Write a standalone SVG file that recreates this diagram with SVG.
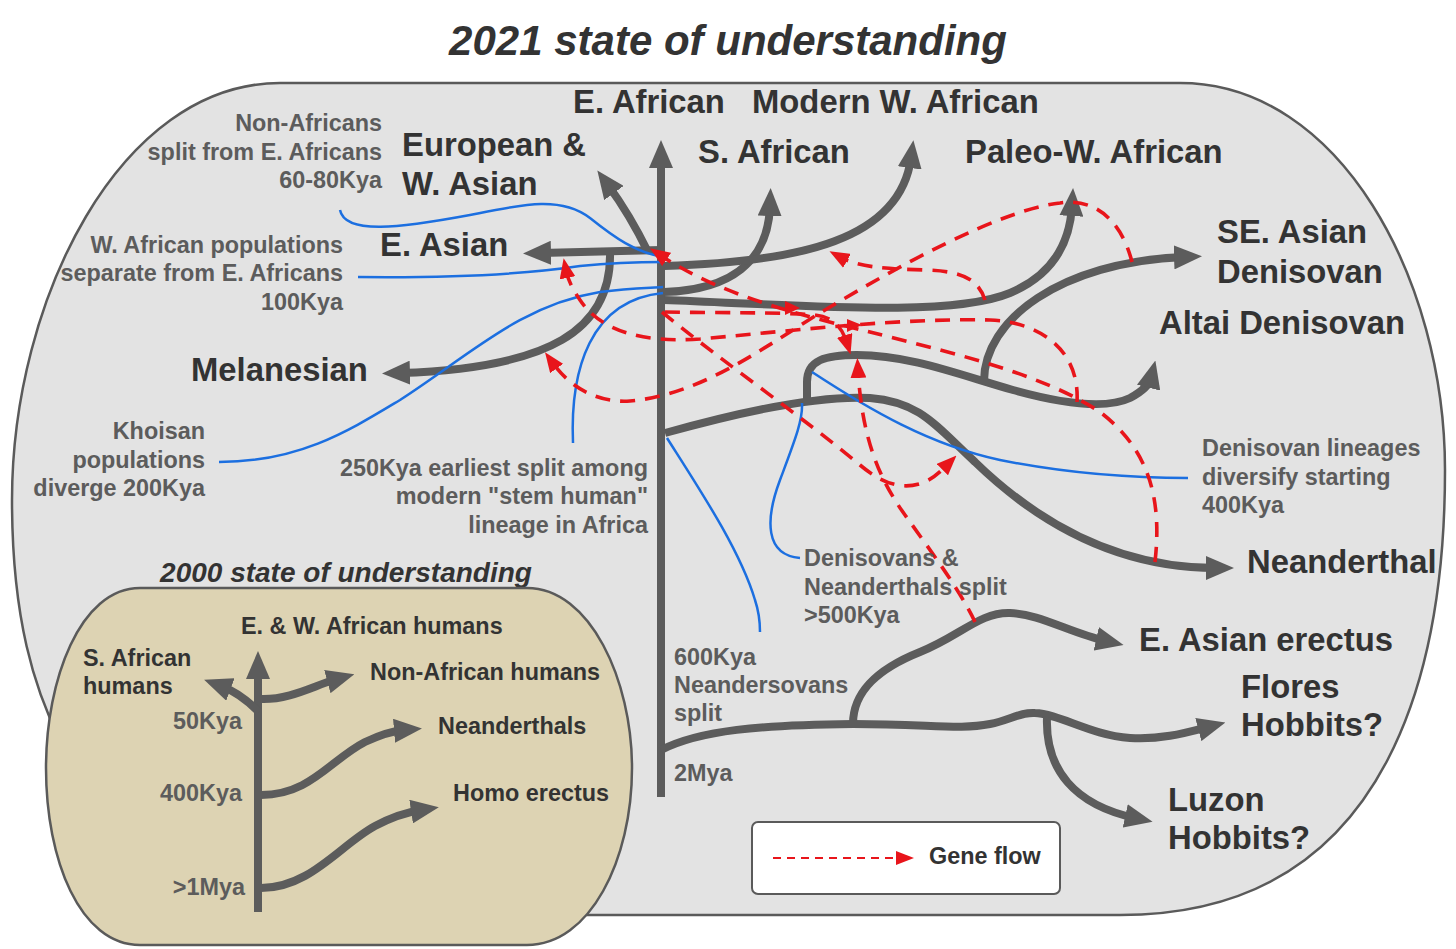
<svg xmlns="http://www.w3.org/2000/svg" width="1456" height="949" viewBox="0 0 1456 949">
<style>
.big{font-family:"Liberation Sans",Arial,sans-serif;font-weight:bold;font-size:32.8px;fill:#333}
.note{font-family:"Liberation Sans",Arial,sans-serif;font-weight:bold;font-size:23.4px;fill:#5c5c5c}
.ins{font-family:"Liberation Sans",Arial,sans-serif;font-weight:bold;font-size:23.4px;fill:#333}
.ttl{font-family:"Liberation Sans",Arial,sans-serif;font-weight:bold;font-style:italic;fill:#333}
.r{text-anchor:end}
.g{fill:none;stroke:#5c5c5c;stroke-width:8;stroke-linecap:butt;marker-end:url(#ga)}
.b{fill:none;stroke:#1c6fe0;stroke-width:2.5}
.rd{fill:none;stroke:#e8151b;stroke-width:3.6;stroke-dasharray:15 10;marker-end:url(#ra)}
</style>
<defs>
<marker id="ga" viewBox="0 -12 28 24" markerUnits="userSpaceOnUse" markerWidth="28" markerHeight="24" refX="10" refY="0" orient="auto"><path d="M0,-12 L28,0 L0,12 Z" fill="#5c5c5c"/></marker>
<marker id="ra" viewBox="0 -8 20 16" markerUnits="userSpaceOnUse" markerWidth="20" markerHeight="16" refX="8" refY="0" orient="auto"><path d="M0,-8 L20,0 L0,8 Z" fill="#e8151b"/></marker>
<marker id="la" viewBox="0 -7 18 14" markerUnits="userSpaceOnUse" markerWidth="18" markerHeight="14" refX="1" refY="0" orient="auto"><path d="M0,-7 L18,0 L0,7 Z" fill="#e8151b"/></marker>
</defs>
<rect width="1456" height="949" fill="#ffffff"/>
<g id="title"><text class="ttl" x="728" y="55" font-size="42" text-anchor="middle">2021 state of understanding</text></g>
<g id="panel-2021">
<path d="M280,83 L1180,83 C1340,83 1445,280 1445,470 C1445,650 1400,915 1120,915 L200,915 L60,740 C35,690 12,620 12,500 C12,300 120,83 280,83 Z" fill="#e3e3e3" stroke="#5a5a5a" stroke-width="2.5"/>
</g>
<g id="connectors">
<path class="g" d="M661,797 L661,158"/>
<path class="g" d="M661,250 L541,253"/>
<path class="g" d="M648,252 Q630,215 608,185"/>
<path class="g" d="M610,252 C612,330 550,368 400,373"/>
<path class="g" d="M664,292 C730,290 768,262 770,206"/>
<path class="g" d="M664,266 C800,262 900,240 911,158"/>
<path class="g" d="M664,300 C800,305 950,318 1010,293 C1055,274 1070,240 1072,206"/>
<path class="g" d="M665,433 C740,412 820,395 870,398 C920,402 935,425 975,462 C1040,525 1120,568 1216,568"/>
<path class="g" d="M807,401 L807,382 C807,360 825,355 857,355 C910,355 960,375 1013,390 C1060,403 1105,410 1130,398 C1145,390 1150,382 1151,378"/>
<path class="g" d="M984,381 C984,320 1060,262 1184,257"/>
<path class="g" d="M661,750 C700,730 760,725 853,724 C930,724 960,730 990,724 C1010,720 1020,712 1035,713 C1060,714 1090,735 1130,738 C1160,740 1185,733 1208,727"/>
<path class="g" d="M853,724 C853,690 880,668 920,652 C960,636 980,612 1010,613 C1040,614 1070,633 1106,641"/>
<path class="g" d="M1047,717 C1045,770 1075,805 1135,818"/>
<path class="b" d="M340,210 C345,235 400,228 470,215 C520,205 560,195 590,218 C615,238 635,252 663,257"/>
<path class="b" d="M358,277 C450,278 520,275 580,266 C620,262 645,262 663,262"/>
<path class="b" d="M219,462 C300,462 350,430 400,400 C470,355 520,305 600,292 C630,288 650,288 663,287"/>
<path class="b" d="M573,443 C570,370 590,300 663,293"/>
<path class="b" d="M812,372 C870,410 930,445 1000,460 C1060,472 1120,478 1188,478"/>
<path class="b" d="M800,558 C765,555 765,520 780,480 C795,440 803,420 802,403"/>
<path class="b" d="M667,438 C700,490 740,550 755,600 C760,615 760,625 760,632"/>
<path class="rd" d="M1132,262 C1120,215 1090,198 1060,203 C1000,210 900,265 820,313 C760,350 700,395 630,401 C600,403 572,390 552,362"/>
<path class="rd" d="M985,300 C978,278 960,271 925,270 C890,269 860,268 840,257"/>
<path class="rd" d="M1155,562 C1162,500 1150,450 1100,412 C1040,372 940,350 870,332 C800,315 720,295 660,255"/>
<path class="rd" d="M1077,402 C1080,350 1040,322 990,320 C900,318 800,330 700,339 C640,343 600,330 580,300 C572,288 568,280 566,270"/>
<path class="rd" d="M975,622 C960,590 930,550 905,515 C880,480 862,440 858,370"/>
<path class="rd" d="M662,312 C720,360 800,415 860,465 C885,486 905,490 925,482 C935,477 940,472 948,464"/>
<path class="rd" d="M665,312 C720,313 780,312 815,315 C835,317 843,330 847,343"/>
<polygon points="785,301 800,308 785,315" fill="#e8151b"/>
<polygon points="847,319 862,325 847,332" fill="#e8151b"/>
</g>
<g id="labels-2021">
<text class="big" x="573" y="113">E. African</text>
<text class="big" x="752" y="113">Modern W. African</text>
<text class="big" x="698" y="163">S. African</text>
<text class="big" x="965" y="163">Paleo-W. African</text>
<text class="big" x="402" y="156">European &amp;</text>
<text class="big" x="402" y="195">W. Asian</text>
<text class="big" x="380" y="256">E. Asian</text>
<text class="big" x="191" y="381">Melanesian</text>
<text class="big" x="1217" y="243">SE. Asian</text>
<text class="big" x="1217" y="283">Denisovan</text>
<text class="big" x="1159" y="334">Altai Denisovan</text>
<text class="big" x="1247" y="573">Neanderthal</text>
<text class="big" x="1139" y="651">E. Asian erectus</text>
<text class="big" x="1241" y="698">Flores</text>
<text class="big" x="1241" y="736">Hobbits?</text>
<text class="big" x="1168" y="811">Luzon</text>
<text class="big" x="1168" y="849">Hobbits?</text>
</g>
<g id="notes-2021">
<text class="note r" x="382" y="131">Non-Africans</text>
<text class="note r" x="382" y="160">split from E. Africans</text>
<text class="note r" x="382" y="188">60-80Kya</text>
<text class="note r" x="343" y="253">W. African populations</text>
<text class="note r" x="343" y="281">separate from E. Africans</text>
<text class="note r" x="343" y="310">100Kya</text>
<text class="note r" x="205" y="439">Khoisan</text>
<text class="note r" x="205" y="468">populations</text>
<text class="note r" x="205" y="496">diverge 200Kya</text>
<text class="note r" x="648" y="476">250Kya earliest split among</text>
<text class="note r" x="648" y="504">modern "stem human"</text>
<text class="note r" x="648" y="533">lineage in Africa</text>
<text class="note" x="1202" y="456">Denisovan lineages</text>
<text class="note" x="1202" y="485">diversify starting</text>
<text class="note" x="1202" y="513">400Kya</text>
<text class="note" x="804" y="566">Denisovans &amp;</text>
<text class="note" x="804" y="595">Neanderthals split</text>
<text class="note" x="804" y="623">&gt;500Kya</text>
<text class="note" x="674" y="665">600Kya</text>
<text class="note" x="674" y="693">Neandersovans</text>
<text class="note" x="674" y="721">split</text>
<text class="note" x="674" y="781">2Mya</text>
</g>
<g id="legend">
<rect x="752" y="822" width="308" height="72" rx="6" fill="#ffffff" stroke="#5a5a5a" stroke-width="2"/>
<path d="M773,858 L897,858" fill="none" stroke="#e8151b" stroke-width="2.2" stroke-dasharray="8 6" marker-end="url(#la)"/>
<text class="ins" x="929" y="864">Gene flow</text>
</g>
<g id="panel-2000">
<text class="ttl" x="346" y="582" font-size="28" text-anchor="middle">2000 state of understanding</text>
<path d="M140,588 L527,588 C590,588 632,680 632,768 C632,860 590,945 527,945 L140,945 C80,945 46,860 46,768 C46,680 80,588 140,588 Z" fill="#ddd3b3" stroke="#5a5a5a" stroke-width="2.5"/>
<g id="inset-connectors">
<path class="g" d="M258,912 L258,669"/>
<path class="g" d="M259,712 Q240,693 221,686"/>
<path class="g" d="M261,699 C290,700 315,685 337,679"/>
<path class="g" d="M261,795 C310,795 330,760 365,742 C380,735 392,731 404,730"/>
<path class="g" d="M261,888 C310,888 340,845 375,826 C392,817 408,812 421,810"/>
</g>
<g id="inset-labels">
<text class="ins" x="241" y="634">E. &amp; W. African humans</text>
<text class="ins" x="83" y="666">S. African</text>
<text class="ins" x="83" y="694">humans</text>
<text class="ins" x="370" y="680">Non-African humans</text>
<text class="ins" x="438" y="734">Neanderthals</text>
<text class="ins" x="453" y="801">Homo erectus</text>
<text class="note r" x="242" y="729">50Kya</text>
<text class="note r" x="242" y="801">400Kya</text>
<text class="note r" x="245" y="895">&gt;1Mya</text>
</g>
</g>
</svg>
